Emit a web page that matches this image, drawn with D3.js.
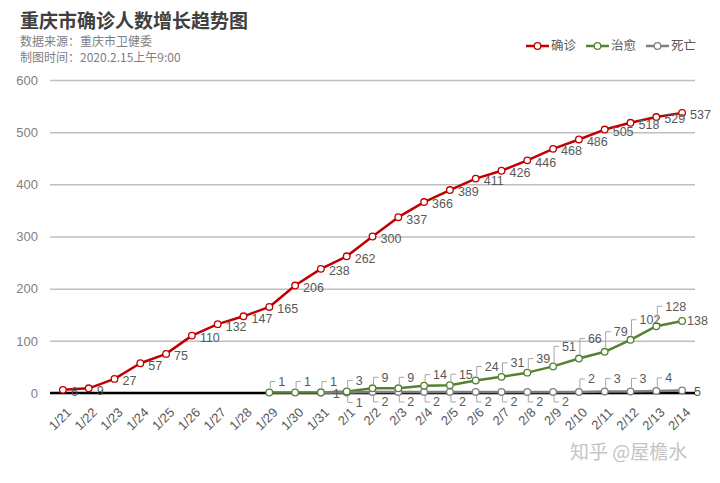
<!DOCTYPE html>
<html><head><meta charset="utf-8">
<script src="https://cdn.jsdelivr.net/npm/d3@7"></script>
<style>
body{margin:0;background:#fff;}
svg{display:block;}
text{font-family:"Liberation Sans","Noto Sans CJK SC",sans-serif;}
.cjk{font-family:"Noto Sans CJK SC","Liberation Sans",sans-serif;}
</style></head>
<body>
<svg id="c" width="720" height="483"></svg>
<script>
const dates = ["1/21","1/22","1/23","1/24","1/25","1/26","1/27","1/28","1/29","1/30","1/31",
  "2/1","2/2","2/3","2/4","2/5","2/6","2/7","2/8","2/9","2/10","2/11","2/12","2/13","2/14"];
const confirmed = [6,9,27,57,75,110,132,147,165,206,238,262,300,337,366,389,411,426,446,468,486,505,518,529,537];
const recoveredDates = dates.slice(8);
const recovered = [1,1,1,3,9,9,14,15,24,31,39,51,66,79,102,128,138];
const deathDates = dates.slice(10);
const deaths = [1,1,2,2,2,2,2,2,2,2,2,3,3,4,5];
const yTicks = [0,100,200,300,400,500,600];
const seriesNames = ["确诊","治愈","死亡"];

const svg = d3.select("#c");
const colors = ["#c00000","#548235","#7f7f7f"];
const x = d3.scaleBand().domain(dates).range([50,695]);
const cx = d => x(d) + x.bandwidth()/2;
const y = d3.scaleLinear().domain([0,600]).range([393,80]);

// title
svg.append("text").attr("class","cjk").attr("x",20).attr("y",28).attr("font-size",19).attr("font-weight","bold")
  .attr("fill","#404040").text("重庆市确诊人数增长趋势图");
svg.append("text").attr("class","cjk").attr("x",20).attr("y",46).attr("font-size",12).attr("fill","#808080").text("数据来源：重庆市卫健委");
svg.append("text").attr("class","cjk").attr("x",20).attr("y",62).attr("font-size",12).attr("fill","#808080").text("制图时间：2020.2.15上午9:00");

// y axis + grid
const ya = svg.append("g").attr("transform","translate(50,0)")
  .call(d3.axisLeft(y).tickValues(yTicks).tickSize(-645).tickPadding(12));
ya.select(".domain").remove();
ya.selectAll(".tick line").attr("stroke","#bfbfbf").attr("stroke-width",1.5);
ya.selectAll(".tick text").attr("font-size",13).attr("fill","#7f7f7f").attr("font-family","Liberation Sans");

// x axis
const xa = svg.append("g").attr("transform","translate(0,393)")
  .call(d3.axisBottom(x).tickSize(0).tickPadding(0));
xa.select(".domain").remove();
xa.selectAll(".tick text").attr("font-size",13).attr("fill","#595959").attr("font-family","Liberation Sans")
  .attr("text-anchor","end").attr("transform","translate(6,17) rotate(-45)").attr("dy","0.35em");

// zero line
svg.append("line").attr("x1",50).attr("x2",695).attr("y1",y(0)).attr("y2",y(0)).attr("stroke","#000").attr("stroke-width",2.5);

const series = [
  {d: dates, v: confirmed, c: colors[0]},
  {d: recoveredDates, v: recovered, c: colors[1]},
  {d: deathDates, v: deaths, c: colors[2]}
];
const line = d3.line().x(p => cx(p[0])).y(p => y(p[1]));
series.forEach(s => {
  const pts = s.d.map((d,i)=>[d,s.v[i]]);
  svg.append("path").datum(pts).attr("d",line).attr("fill","none").attr("stroke",s.c).attr("stroke-width",2.5).attr("stroke-linejoin","round");
  s.pts = pts;
});
series.slice().reverse().forEach(s => {
  svg.append("g").selectAll("circle").data(s.pts).join("circle")
    .attr("cx",p=>cx(p[0])).attr("cy",p=>y(p[1])).attr("r",3.3)
    .attr("fill","#fff").attr("stroke",s.c).attr("stroke-width",1.3);
});

const lbl = svg.append("g").attr("font-size",12.5).attr("fill","#595959");
function textAt(px,py,t){ lbl.append("text").attr("x",px).attr("y",py).attr("dy","0.35em").text(t); }
function leader(px,py,ty){
  svg.append("path").attr("d",`M${px+1},${py+(ty<py?-4:4)}V${ty}H${px+6}`).attr("fill","none").attr("stroke","#a6a6a6").attr("stroke-width",1);
}
// confirmed labels: right
series[0].pts.forEach(p => textAt(cx(p[0])+8, y(p[1])+2, p[1]));
// recovered labels: above with leader, last one right
series[1].pts.forEach((p,i,arr) => {
  const px = cx(p[0]), py = y(p[1]);
  if (i === arr.length-1) { textAt(px+5, py, p[1]); return; }
  const off = p[1] < 20 ? 11 : (p[1] < 40 ? 14 : 20);
  leader(px,py,py-off);
  textAt(px+9, py-off, p[1]);
});
// death labels
series[2].pts.forEach((p,i,arr) => {
  const px = cx(p[0]), py = y(p[1]);
  if (i === 0 || i === arr.length-1) { textAt(px+12, py+1, p[1]); return; }
  if (i <= 9) { leader(px,py,py+10); textAt(px+9, py+10, p[1]); }
  else { leader(px,py,py-13); textAt(px+9, py-13, p[1]); }
});

// legend
const lg = svg.append("g");
[526,586,646].forEach((lx,i) => {
  lg.append("line").attr("x1",lx).attr("x2",lx+23).attr("y1",46).attr("y2",46).attr("stroke",colors[i]).attr("stroke-width",2.5);
  lg.append("circle").attr("cx",lx+11.5).attr("cy",46).attr("r",3.3).attr("fill","#fff").attr("stroke",colors[i]).attr("stroke-width",1.3);
  lg.append("text").attr("class","cjk").attr("x",lx+25).attr("y",46).attr("dy","0.35em").attr("font-size",12.5).attr("fill","#595959").text(seriesNames[i]);
});

// watermark
svg.append("text").attr("class","cjk").attr("x",570).attr("y",452).attr("dy","0.35em").attr("font-size",19).attr("fill","#c4c4c4").text("知乎 @屋檐水");
</script>
</body></html>
